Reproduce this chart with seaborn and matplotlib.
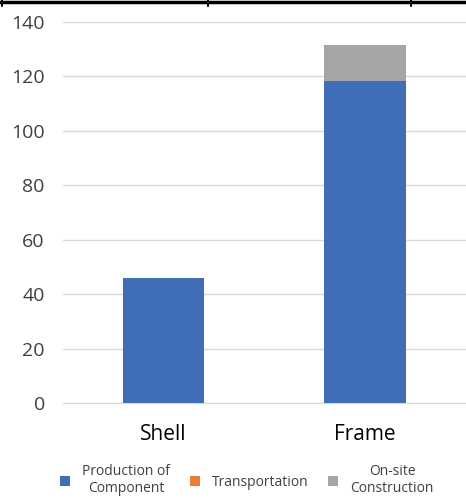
import matplotlib
matplotlib.use("Agg")
import matplotlib.pyplot as plt
from matplotlib.lines import Line2D
from matplotlib.patches import Patch
import numpy as np
import pandas as pd
import seaborn as sns

# data
structures = ["Shell", "Frame"]
production = [46, 118.5]
transportation = [0, 0]
onsite = [0, 13]

stage_labels = ["Production of\nComponent", "Transportation", "On-site\nConstruction"]
stage_colors = ["#3F6DB8", "#ED7D31", "#A5A5A5"]

sns.set_style("white")
plt.rcParams["font.family"] = ["Open Sans", "DejaVu Sans"]

df = pd.DataFrame({"structure": structures,
                   "production": production,
                   "transportation": transportation,
                   "onsite": onsite})
df["cum1"] = df["production"]
df["cum2"] = df["cum1"] + df["transportation"]
df["cum3"] = df["cum2"] + df["onsite"]

fig = plt.figure(figsize=(4.66, 4.99), dpi=100)
ax = fig.add_axes([0.135, 0.192, 0.865, 0.764])

# stacked bars drawn from the top layer down
for col, color in zip(["cum3", "cum2", "cum1"], stage_colors[::-1]):
    sns.barplot(data=df, x="structure", y=col, color=color, width=0.405,
                saturation=1, linewidth=0, edgecolor="none", ax=ax, zorder=3)

ax.set_ylim(0, 140)
ax.set_yticks(np.arange(0, 141, 20))
ax.yaxis.grid(True, color="#D9D9D9", linewidth=1, zorder=0)
ax.set_axisbelow(True)
for s in ["top", "right", "left"]:
    ax.spines[s].set_visible(False)
ax.spines["bottom"].set_color("#D9D9D9")
ax.set_xlabel("")
ax.set_ylabel("")
ax.tick_params(axis="y", length=0, labelsize=14, labelcolor="#404040", pad=13)
ax.tick_params(axis="x", length=0, labelsize=15, labelcolor="black", pad=15)

handles = [Patch(facecolor=c, edgecolor="none") for c in stage_colors]
leg = fig.legend(handles, stage_labels, loc="lower center", ncol=3,
                 bbox_to_anchor=(0.53, -0.02), frameon=False, fontsize=10,
                 handlelength=0.7, handleheight=0.7, columnspacing=1.4,
                 handletextpad=0.9, labelspacing=0.2)
for t in leg.get_texts():
    t.set_color("#404040")
    t.set_multialignment("center")

# remnants of a table border at the top of the image
fig.add_artist(Line2D([0, 1], [0.996, 0.996], color="black", linewidth=2.5))
for xv in [0.005, 208 / 466, 411 / 466]:
    fig.add_artist(Line2D([xv, xv], [0.988, 1.0], color="black", linewidth=1.5))

fig.savefig("out.png", dpi=100)
